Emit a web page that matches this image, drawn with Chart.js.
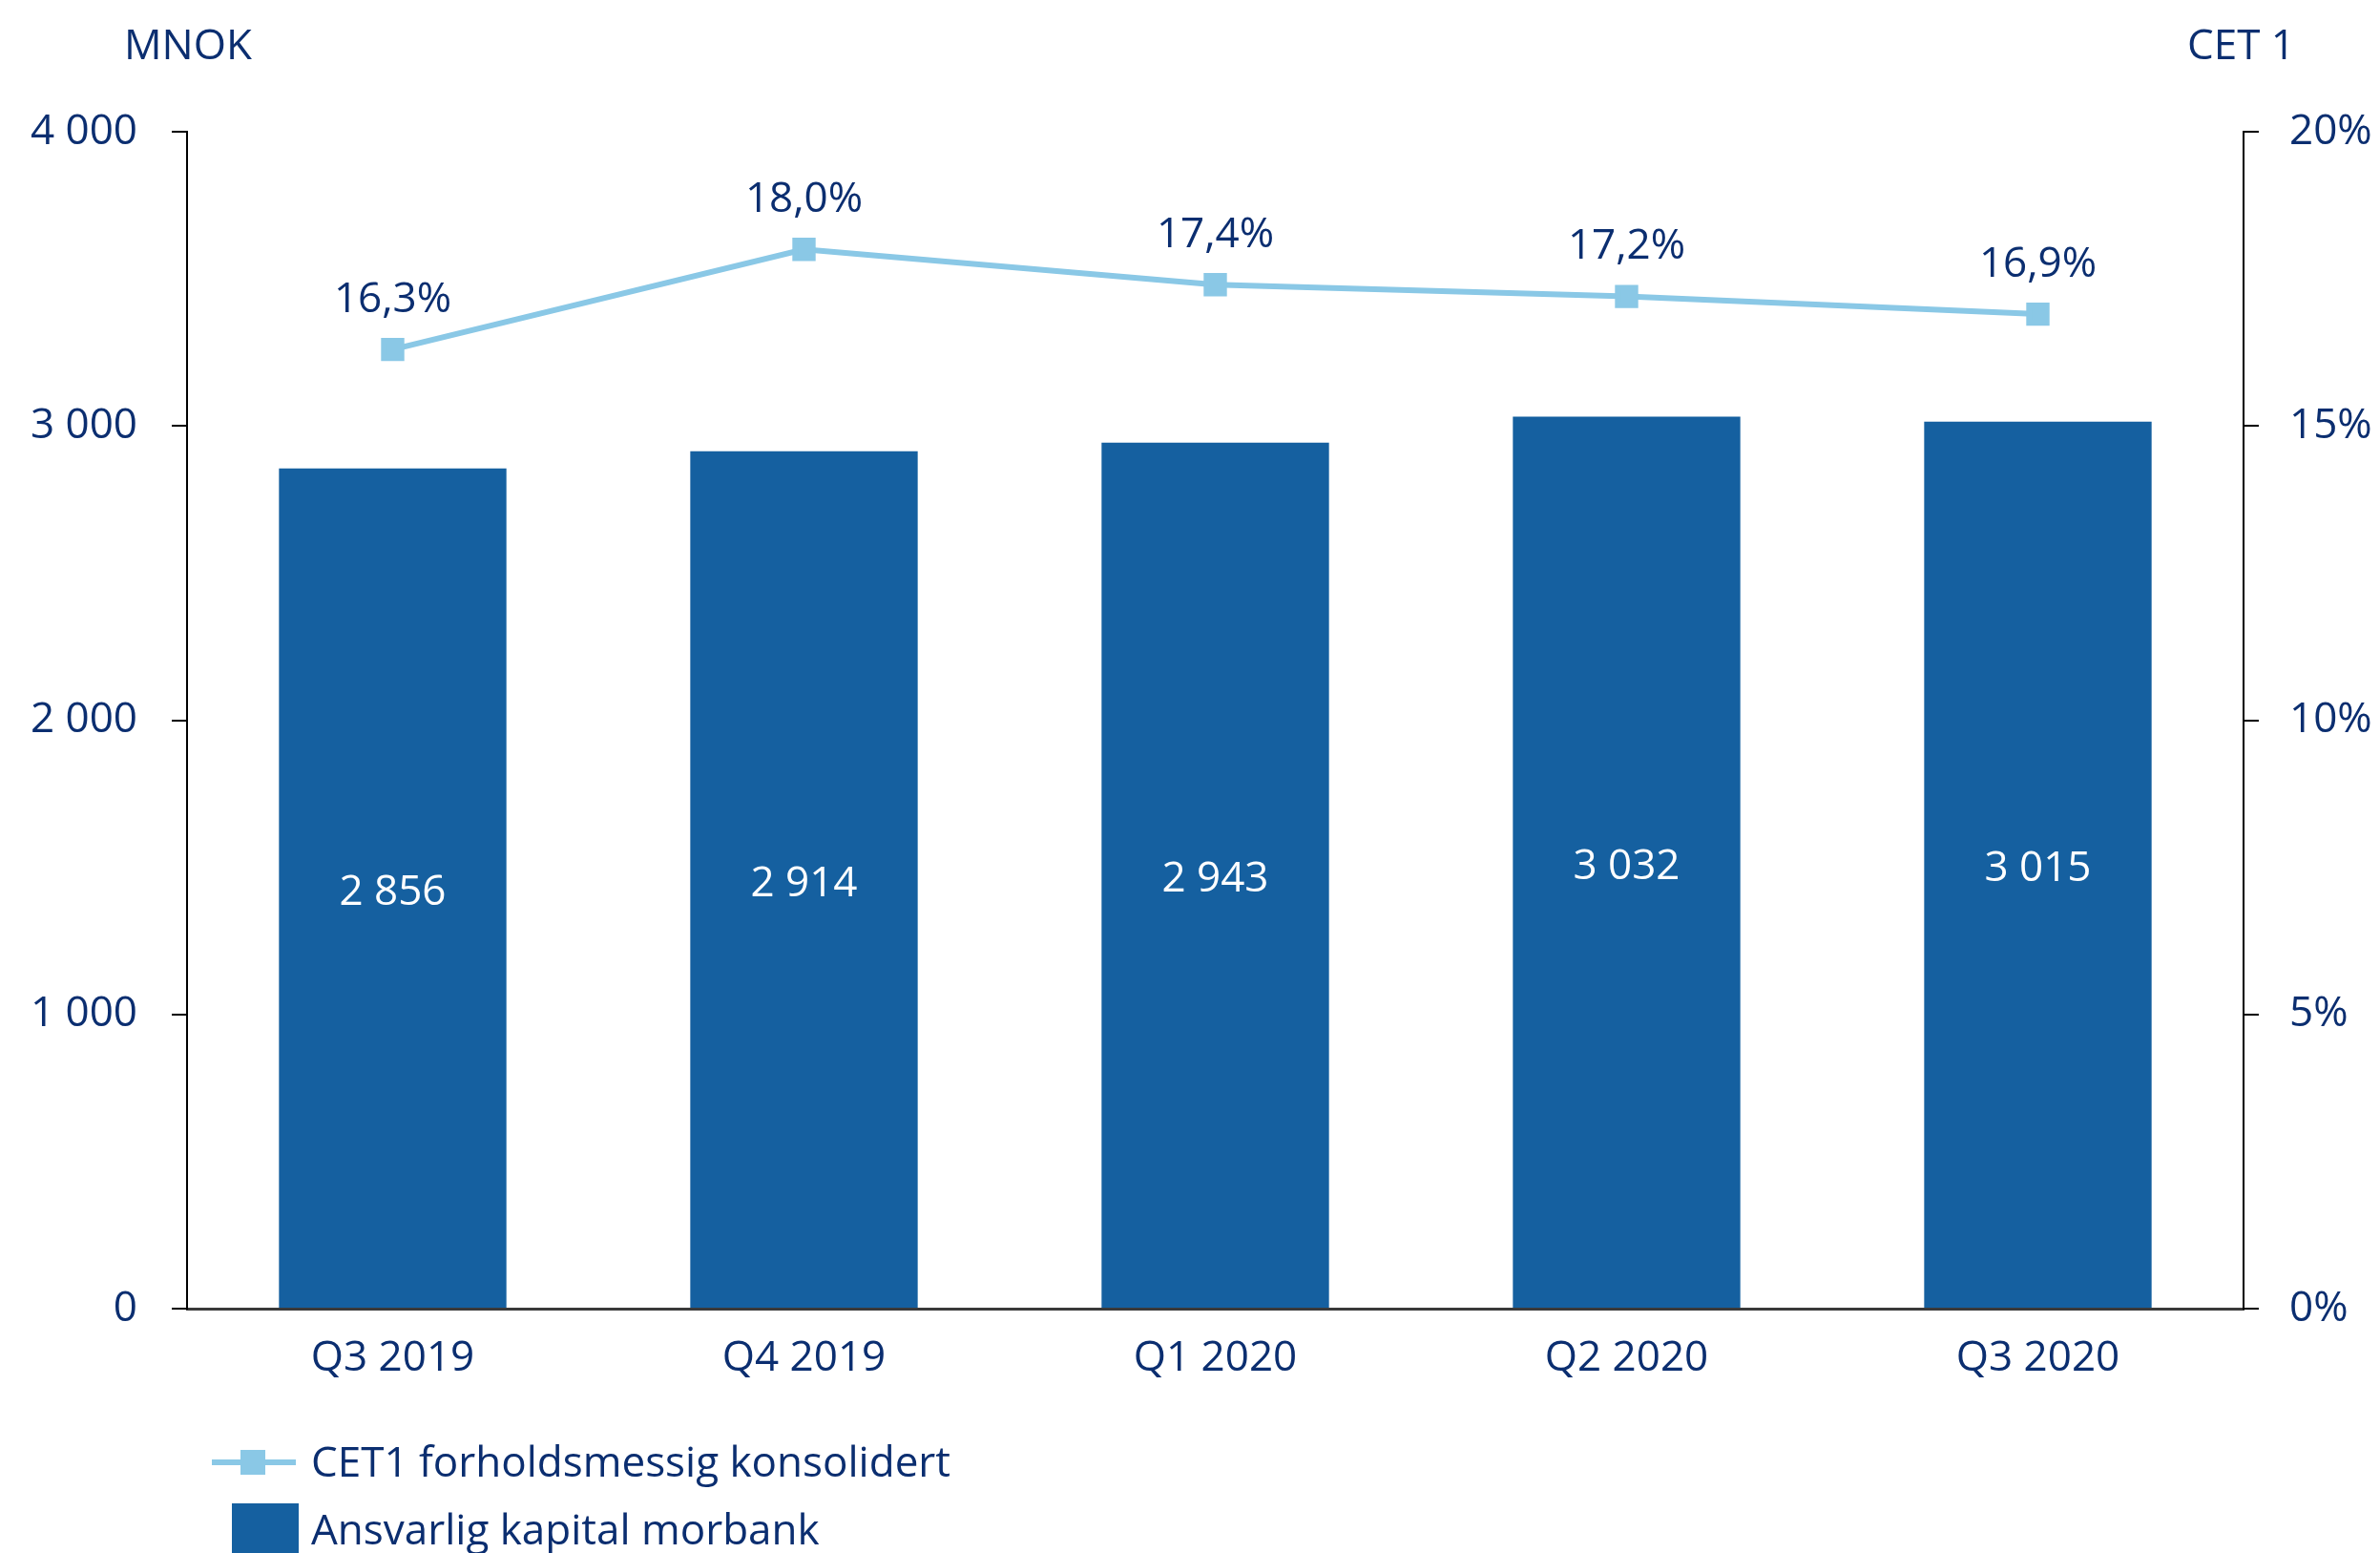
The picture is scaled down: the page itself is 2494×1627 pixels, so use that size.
<!DOCTYPE html>
<html>
<head>
<meta charset="utf-8">
<script src="https://cdn.jsdelivr.net/npm/chart.js@4"></script>
<style>
  html, body { margin: 0; padding: 0; background: #fff; }
  canvas { display: block; }
</style>
</head>
<body>
<canvas id="chart" width="2494" height="1627"></canvas>
<script>
// Data
const categories = ["Q3 2019", "Q4 2019", "Q1 2020", "Q2 2020", "Q3 2020"];
const capitalValues = [2856, 2914, 2943, 3032, 3015];   // Ansvarlig kapital morbank (MNOK)
const cet1Values = [16.3, 18.0, 17.4, 17.2, 16.9];      // CET1 forholdsmessig konsolidert (%)
const leftTicks = [0, 1000, 2000, 3000, 4000];
const rightTicks = [0, 5, 10, 15, 20];

const NAVY = "#0b2e70";
const BAR = "#1560a0";
const LINE = "#8ac8e6";
const FONT = "'Open Sans', sans-serif";
const FONT_SIZE = 44;

// "2 856" style thousands separator
function fmtThousands(v) {
  return String(v).replace(/\B(?=(\d{3})+(?!\d))/g, " ");
}
function fmtPct(v) {
  return v.toFixed(1).replace(".", ",") + "%";
}

// Value labels on bars and line points
const valueLabels = {
  id: "valueLabels",
  afterDatasetsDraw(chart) {
    const ctx = chart.ctx;
    ctx.save();
    ctx.font = FONT_SIZE + "px " + FONT;
    ctx.textAlign = "center";
    ctx.textBaseline = "middle";
    chart.data.datasets.forEach((ds, i) => {
      const meta = chart.getDatasetMeta(i);
      meta.data.forEach((el, j) => {
        if (ds.type === "bar") {
          ctx.fillStyle = "#ffffff";
          ctx.fillText(fmtThousands(ds.data[j]), el.x, (el.y + el.base) / 2 + 5);
        } else {
          ctx.fillStyle = NAVY;
          ctx.fillText(fmtPct(ds.data[j]), el.x, el.y - 52);
        }
      });
    });
    ctx.restore();
  }
};

// Axis unit titles and the two-row legend
const extras = {
  id: "extras",
  afterDraw(chart) {
    const ctx = chart.ctx;
    ctx.save();
    ctx.font = FONT_SIZE + "px " + FONT;
    ctx.fillStyle = NAVY;
    ctx.textBaseline = "middle";
    ctx.textAlign = "left";
    ctx.fillText("MNOK", 130, 49);
    ctx.textAlign = "right";
    ctx.fillText("CET 1", 2405, 49);

    // legend row 1: line with square marker
    ctx.strokeStyle = LINE;
    ctx.lineWidth = 6;
    ctx.beginPath();
    ctx.moveTo(222, 1532);
    ctx.lineTo(310, 1532);
    ctx.stroke();
    ctx.fillStyle = LINE;
    ctx.fillRect(252, 1519, 26, 26);
    ctx.fillStyle = NAVY;
    ctx.textAlign = "left";
    ctx.fillText(chart.data.datasets[0].label, 326, 1534);

    // legend row 2: bar swatch
    ctx.fillStyle = BAR;
    ctx.fillRect(243, 1575, 70, 70);
    ctx.fillStyle = NAVY;
    ctx.fillText(chart.data.datasets[1].label, 326, 1605);
    ctx.restore();
  }
};

new Chart(document.getElementById("chart"), {
  data: {
    labels: categories,
    datasets: [
      {
        type: "line",
        label: "CET1 forholdsmessig konsolidert",
        data: cet1Values,
        yAxisID: "y2",
        borderColor: LINE,
        backgroundColor: LINE,
        borderWidth: 6,
        pointStyle: "rect",
        pointRadius: 13,
        pointHoverRadius: 13,
        tension: 0,
        order: 0
      },
      {
        type: "bar",
        label: "Ansvarlig kapital morbank",
        data: capitalValues,
        yAxisID: "y",
        backgroundColor: BAR,
        barPercentage: 0.553,
        categoryPercentage: 1,
        order: 1
      }
    ]
  },
  options: {
    responsive: false,
    animation: false,
    devicePixelRatio: 1,
    layout: { padding: { top: 138, left: 0, right: 0, bottom: 0 } },
    plugins: {
      legend: { display: false },
      tooltip: { enabled: false }
    },
    scales: {
      x: {
        offset: true,
        grid: { display: false, drawTicks: false },
        border: { display: true, color: "#3a3a3a", width: 3 },
        ticks: {
          color: NAVY,
          font: { family: FONT, size: FONT_SIZE },
          padding: 26
        },
        afterFit(scale) { scale.height = 256; }
      },
      y: {
        position: "left",
        min: 0,
        max: 4000,
        afterBuildTicks(scale) { scale.ticks = leftTicks.map(v => ({ value: v })); },
        grid: { drawOnChartArea: false, color: "#000", lineWidth: 2, tickLength: 16 },
        border: { display: true, color: "#000", width: 2 },
        ticks: {
          color: NAVY,
          font: { family: FONT, size: FONT_SIZE },
          padding: 36,
          callback: v => fmtThousands(v)
        },
        afterFit(scale) { scale.width = 196; }
      },
      y2: {
        position: "right",
        min: 0,
        max: 20,
        afterBuildTicks(scale) { scale.ticks = rightTicks.map(v => ({ value: v })); },
        grid: { drawOnChartArea: false, color: "#000", lineWidth: 2, tickLength: 16 },
        border: { display: true, color: "#000", width: 2 },
        ticks: {
          color: NAVY,
          font: { family: FONT, size: FONT_SIZE },
          padding: 32,
          callback: v => v + "%"
        },
        afterFit(scale) { scale.width = 143; }
      }
    }
  },
  plugins: [valueLabels, extras]
});
</script>
</body>
</html>
